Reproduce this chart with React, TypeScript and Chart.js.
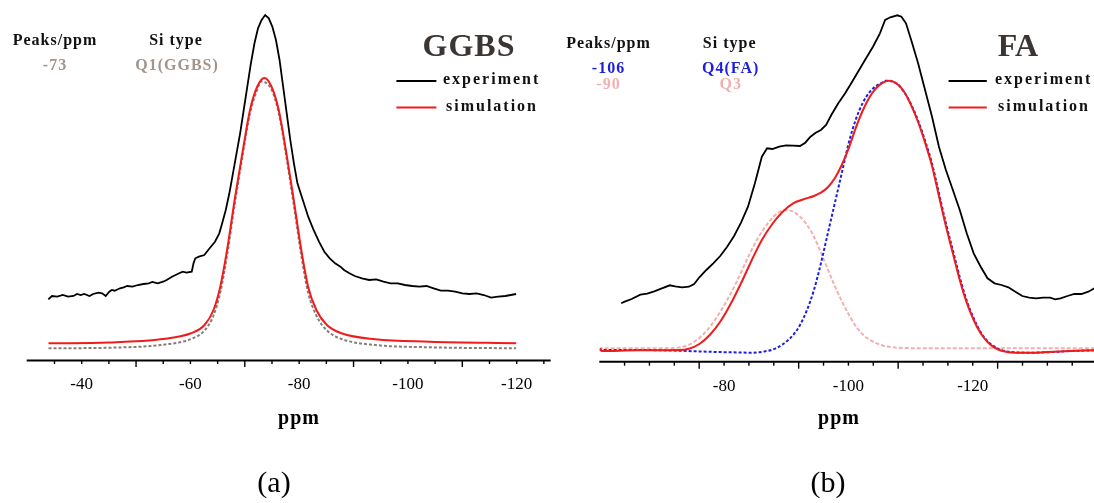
import { useEffect, useRef } from "react";
import { Chart, registerables } from "chart.js";

Chart.register(...registerables);

const SERIF = '"Liberation Serif", "Times New Roman", serif';

// ---------- (a) GGBS : 29Si NMR, chemical shift (ppm) vs intensity (a.u.) ----------
const ggbsExpPpm = [
  -33.87, -34.53, -35.52, -36.51, -37.5, -38.49, -39.15, -39.81, -40.47, -41.45, -42.11, -43.1, -43.76,
  -44.42, -45.08, -45.54, -46.07, -47.06, -47.72, -48.37, -49.36, -50.35, -51.34, -52.33, -52.99, -53.98,
  -54.97, -55.63, -56.61, -57.27, -57.93, -58.59, -59.25, -60.24, -60.57, -60.9, -61.56, -62.55, -63.53,
  -64.52, -65.31, -65.84, -66.5, -67.16, -67.82, -68.48, -69.14, -69.8, -70.46, -71.12, -71.78, -72.43,
  -73.09, -73.75, -74.41, -75.07, -75.73, -76.39, -77.05, -77.71, -78.37, -79.03, -79.68, -80.67, -81.66,
  -82.65, -83.64, -84.63, -85.62, -86.61, -87.59, -88.25, -89.24, -90.23, -91.55, -92.87, -94.19, -95.5,
  -96.82, -98.14, -99.46, -100.78, -102.1, -103.41, -104.73, -106.05, -107.37, -108.69, -110.01, -111.32,
  -112.64, -113.96, -115.28, -116.6, -117.92, -118.9, -119.89,
];
const ggbsExpInt = [
  61.2, 64.5, 63.8, 65.5, 63.8, 64.5, 66.5, 65.5, 66.5, 64.5, 66.5, 67.8, 67.2,
  64.5, 68.8, 70.5, 69.8, 72.2, 73.2, 74.5, 73.8, 75.5, 76.5, 77.2, 78.5, 77.2,
  78.8, 80.5, 83.8, 85.5, 87.2, 88.8, 87.8, 88.8, 97.2, 102.2, 103.8, 105.5, 112.2,
  118.8, 127.2, 137.2, 150.5, 167.2, 187.2, 207.2, 227.2, 250.5, 273.8, 297.2, 317.2, 332.2,
  340.5, 345.5, 342.2, 333.8, 320.5, 300.5, 273.8, 247.2, 220.5, 197.2, 177.2, 160.5, 143.8,
  130.5, 118.8, 108.8, 102.2, 97.2, 93.8, 90.5, 87.2, 84.5, 82.2, 80.5, 81.2, 78.8,
  77.2, 77.2, 75.5, 74.5, 73.8, 74.5, 72.2, 69.8, 69.8, 68.8, 67.2, 66.5,
  67.2, 65.5, 62.8, 63.8, 64.5, 65.5, 66.5,
];
const ggbsSimPpm = [
  -33.9, -45, -54.5, -60.1, -62.6, -64.24, -65.49, -66.74, -68.13, -69.65, -70.96, -72.3, -73.6,
  -74.9, -76.24, -77.55, -79.0, -80.39, -81.64, -83.16, -85.1, -87.8, -94.0, -104, -119.9,
];
const ggbsSimInt = [
  17.2, 18.0, 21.2, 27.2, 35.5, 50.5, 73.8, 110.5, 160.5, 210.5, 250.5, 274, 282.5,
  274, 250.5, 210.5, 160.5, 110.5, 73.8, 50.5, 35.5, 27.2, 21.2, 18.8, 17.2,
];
const ggbsQ1Ppm = [
  -33.9, -45, -54.5, -60.1, -62.6, -64.24, -65.49, -66.74, -68.13, -69.65, -70.96, -72.3, -73.0,
  -74.9, -76.24, -77.55, -79.0, -80.39, -81.64, -83.16, -85.1, -87.8, -94.0, -104, -119.9,
];
const ggbsQ1Int = [
  12.2, 12.8, 15.5, 21.5, 30, 45, 68, 105, 156, 207, 247.5, 271, 279,
  271, 247.5, 207, 156, 105, 68, 45, 30, 21.5, 15.5, 13.2, 12.2,
];
const ggbsMinorTicks = [-35, -40, -45, -55, -60, -65, -75, -80, -85, -95, -100, -105, -115, -120, -125];
const ggbsMajorTicks = [-50, -70, -90, -110];
const ggbsTickLabels = [-40, -60, -80, -100, -120];
const ggbsPeaks = ["-73"];
const ggbsSiTypes = ["Q1(GGBS)"];

// ---------- (b) FA ----------
const faExpPpm = [
  -63.46, -64.02, -65.14, -66.54, -67.65, -68.77, -69.89, -71.28, -72.12, -73.24, -74.35, -75.19, -76.03,
  -77.15, -78.26, -79.38, -80.5, -81.61, -82.73, -83.85, -84.96, -86.08, -86.92, -87.76, -88.87, -89.99,
  -91.11, -92.22, -93.06, -93.9, -94.74, -95.58, -96.41, -97.25, -98.37, -99.48, -100.6, -101.72, -102.84,
  -103.95, -105.07, -105.91, -106.74, -107.86, -108.53, -109.26, -110.1, -111.21, -112.33, -113.45, -114.56,
  -115.68, -116.8, -117.91, -119.03, -120.15, -121.27, -122.38, -123.5, -124.62, -125.73, -126.85, -127.97,
  -129.08, -130.2, -131.32, -132.43, -133.27, -134.11, -135.23, -136.34, -137.46, -138.58, -139.58,
];
const faExpInt = [
  58.4, 60.0, 62.7, 67.0, 68.0, 70.4, 73.0, 76.4, 75.4, 74.4, 75.0, 77.7, 84.4,
  91.7, 98.4, 105.7, 115.0, 125.7, 139.0, 155.0, 178.4, 205.0, 213.4, 212.7, 215.0, 216.4,
  216.0, 215.7, 219.0, 225.0, 229.0, 231.7, 236.7, 246.7, 258.4, 268.4, 280.0, 291.7, 303.4,
  315.0, 328.4, 341.7, 344.4, 346.4, 345.0, 338.4, 321.7, 298.4, 271.7, 245.0, 215.0,
  191.7, 171.7, 151.7, 128.4, 108.4, 95.0, 83.4, 78.4, 76.7, 74.4, 70.0, 65.7,
  64.0, 63.4, 64.0, 64.0, 62.4, 63.4, 65.7, 67.7, 67.7, 70.0, 73.4,
];
const faSimPpm = [
  -60.1, -60.3, -65.98, -72.68, -74.35, -76.03, -77.7, -79.38, -81.06, -82.73, -84.41, -86.08, -87.76,
  -89.43, -91.11, -92.78, -94.46, -95.58, -96.69, -97.81, -98.93, -100.04, -101.16, -102.28, -103.39,
  -104.51, -105.63, -106.63, -107.86, -108.98, -110.1, -111.21, -112.33, -113.45, -114.56, -115.68, -116.8,
  -117.91, -119.03, -120.15, -121.27, -122.38, -123.5, -124.62, -126.85, -129.08, -131.32, -134.67, -139.58,
];
const faSimInt = [
  13.5, 10.7, 11.4, 11.7, 13.0, 17.7, 26.7, 40.0, 57.7, 78.4, 101.0, 121.7, 137.7,
  150.0, 158.4, 162.4, 165.7, 169.0, 174.4, 183.4, 196.7, 213.4, 233.4, 250.7, 264.4,
  274.0, 279.4, 281.0, 277.7, 269.7, 256.4, 239.7, 219.0, 195.7, 165.7, 135.7, 108.4,
  81.7, 59.0, 41.7, 28.4, 19.7, 14.0, 11.0, 9.0, 9.0, 9.4, 10.4, 11.4,
];
const faQ4Ppm = [
  -59.83, -65.98, -72.68, -77.15, -81.06, -84.41, -86.64, -88.32, -89.99, -91.11, -92.22, -93.34, -94.46,
  -95.58, -96.69, -97.81, -98.93, -100.04, -101.16, -102.28, -103.39, -104.51, -105.63, -106.0, -107.86,
  -108.98, -110.1, -111.21, -112.33, -113.45, -114.56, -115.68, -116.8, -117.91, -119.03, -120.15, -121.27,
  -122.38, -123.5, -124.62, -126.29, -129.08, -132.99, -135.79, -139.58,
];
const faQ4Int = [
  11.7, 11.7, 11.0, 10.0, 9.4, 9.0, 10.4, 13.4, 20.0, 26.7, 36.7, 51.7, 71.7,
  98.4, 128.4, 158.4, 188.4, 218.4, 241.7, 258.4, 269.4, 276.0, 279.7, 281.0, 277.7,
  269.5, 257.0, 241.0, 221.0, 198.0, 168.5, 138.5, 111.5, 84.5, 61.0, 43.5, 29.5,
  20.5, 15.0, 11.5, 9.7, 9.0, 9.7, 10.7, 11.4,
];
const faQ3Ppm = [
  -59.83, -70.45, -73.24, -75.47, -77.15, -78.82, -80.5, -82.17, -83.85, -85.52, -87.2, -88.59, -90.0,
  -91.11, -92.22, -93.34, -94.46, -95.58, -96.69, -97.81, -98.93, -100.04, -101.16, -102.28, -103.95,
  -105.63, -107.86, -113.45, -139.58,
];
const faQ3Int = [
  13.4, 13.4, 14.7, 21.0, 30.7, 44.4, 61.7, 81.7, 104.4, 124.4, 139.7, 148.4, 151.7,
  150.0, 145.0, 136.7, 125.0, 109.0, 92.4, 75.7, 60.7, 47.4, 35.7, 27.4, 20.0,
  16.0, 14.0, 13.4, 13.4,
];
const faMinorTicks = [-64, -68, -72, -80, -84, -88, -96, -100, -104, -112, -116, -120, -128, -132, -136];
const faMajorTicks = [-76, -92, -108, -124];
const faTickLabels = [-80, -100, -120];
const faPeaks = ["-106", "-90"];
const faSiTypes = ["Q4(FA)", "Q3"];

const legendNames = ["experiment", "simulation"];

const BLACK = "#000000";
const RED = "#f01c1c";
const Q1_LINE = "#867d78";
const Q1_TEXT = "#a3948b";
const Q4_BLUE = "#1d1fdc";
const Q3_PINK = "#f3b0b0";
const TITLE_INK = "#3b3633";

type TextItem = { text: string; x: number; y: number; color: string; size: number; bold?: boolean; spacing?: number; align?: CanvasTextAlign };

type PanelSpec = {
  id: string;
  originX: number;
  width: number;
  xMin: number;
  xMax: number;
  padding: { left: number; right: number; top: number; bottom: number };
  minorTicks: number[];
  majorTicks: number[];
  tickLabels: number[];
  minorLen: number;
  majorLen: number;
  tickLabelY: number;
  axisPadLeft: number;
  axisPadRight: number;
  texts: TextItem[];
  legendX: [number, number];
  legendY: [number, number];
  datasets: any[];
};

const pts = (xs: number[], ys: number[]) => xs.map((x, i) => ({ x, y: ys[i] }));

const lineDs = (label: string, xs: number[], ys: number[], color: string, order: number, extra: any = {}) => ({
  label,
  data: pts(xs, ys),
  borderColor: color,
  backgroundColor: color,
  borderWidth: 2,
  pointRadius: 0,
  fill: false,
  order,
  ...extra,
});

const smooth = { cubicInterpolationMode: "monotone" };

function headerTexts(
  peakX: number,
  typeX: number,
  headY: number,
  rowYs: number[],
  peaks: string[],
  types: string[],
  colors: string[],
): TextItem[] {
  const out: TextItem[] = [
    { text: "Peaks/ppm", x: peakX, y: headY, color: "#111", size: 16, bold: true, spacing: 1 },
    { text: "Si type", x: typeX, y: headY, color: "#111", size: 16, bold: true, spacing: 1 },
  ];
  peaks.forEach((p, i) => {
    out.push({ text: p, x: peakX, y: rowYs[i], color: colors[i], size: 16, bold: true, spacing: 1 });
    out.push({ text: types[i], x: typeX + 1, y: rowYs[i], color: colors[i], size: 16, bold: true, spacing: 1 });
  });
  return out;
}

const panels: PanelSpec[] = [
  {
    id: "ggbs",
    originX: 0,
    width: 560,
    xMin: -126,
    xMax: -30,
    padding: { left: 27.3, right: 10.7, top: 10.5, bottom: 142.5 },
    minorTicks: ggbsMinorTicks,
    majorTicks: ggbsMajorTicks,
    tickLabels: ggbsTickLabels,
    minorLen: 3.5,
    majorLen: 6.5,
    tickLabelY: 385,
    axisPadLeft: 0.6,
    axisPadRight: 1.4,
    texts: [
      ...headerTexts(55, 176, 40.5, [65.5], ggbsPeaks, ggbsSiTypes, [Q1_TEXT]),
      { text: "GGBS", x: 469, y: 47.5, color: TITLE_INK, size: 32, bold: true, spacing: 1 },
      { text: legendNames[0], x: 443, y: 80, color: "#111", size: 16, bold: true, spacing: 2, align: "left" },
      { text: legendNames[1], x: 446, y: 106.5, color: "#111", size: 16, bold: true, spacing: 2, align: "left" },
    ],
    legendX: [396.4, 436.4],
    legendY: [81, 107.5],
    datasets: [
      lineDs("experiment", ggbsExpPpm, ggbsExpInt, BLACK, 0, { tension: 0, borderWidth: 1.8 }),
      lineDs("simulation", ggbsSimPpm, ggbsSimInt, RED, 1, smooth),
      lineDs("Q1(GGBS)", ggbsQ1Ppm, ggbsQ1Int, Q1_LINE, 2, { ...smooth, borderDash: [3, 2] }),
    ],
  },
  {
    id: "fa",
    originX: 560,
    width: 534,
    xMin: -139.5,
    xMax: -60,
    padding: { left: 39.7, right: 0, top: 11.7, bottom: 141.3 },
    minorTicks: faMinorTicks,
    majorTicks: faMajorTicks,
    tickLabels: faTickLabels,
    minorLen: 4,
    majorLen: 7,
    tickLabelY: 386.7,
    axisPadLeft: 0.4,
    axisPadRight: 0,
    texts: [
      ...headerTexts(608.5, 729.7, 43.5, [68.5, 85], faPeaks, faSiTypes, [Q4_BLUE, Q3_PINK]),
      { text: "FA", x: 1018, y: 47.5, color: TITLE_INK, size: 32, bold: true, spacing: 0 },
      { text: legendNames[0], x: 995, y: 80, color: "#111", size: 16, bold: true, spacing: 2, align: "left" },
      { text: legendNames[1], x: 998, y: 106.5, color: "#111", size: 16, bold: true, spacing: 2, align: "left" },
    ],
    legendX: [948.6, 986.8],
    legendY: [81, 107.5],
    datasets: [
      lineDs("experiment", faExpPpm, faExpInt, BLACK, 0, { tension: 0, borderWidth: 1.8 }),
      lineDs("simulation", faSimPpm, faSimInt, RED, 1, smooth),
      lineDs("Q4(FA)", faQ4Ppm, faQ4Int, Q4_BLUE, 2, { ...smooth, borderDash: [3, 2] }),
      lineDs("Q3", faQ3Ppm, faQ3Int, Q3_PINK, 3, { ...smooth, borderDash: [4, 2] }),
    ],
  },
];

const panelCaptions = ["(a)", "(b)"];
const captionX = [274, 828];
const axisTitleX = [299, 839];

function makeDecor(p: PanelSpec, index: number) {
  return {
    id: "decor-" + p.id,
    afterDraw(chart: Chart) {
      const ctx = chart.ctx;
      const area = chart.chartArea;
      const xs = chart.scales.x;
      const ox = p.originX;
      const y0 = area.bottom;
      ctx.save();

      // bottom axis with ticks pointing down
      ctx.strokeStyle = "#000";
      ctx.lineWidth = 2;
      ctx.beginPath();
      ctx.moveTo(area.left - p.axisPadLeft, y0);
      ctx.lineTo(area.right + p.axisPadRight, y0);
      ctx.stroke();
      ctx.lineWidth = 1.4;
      const tick = (v: number, len: number) => {
        const px = xs.getPixelForValue(v);
        ctx.beginPath();
        ctx.moveTo(px, y0);
        ctx.lineTo(px, y0 + len);
        ctx.stroke();
      };
      p.minorTicks.forEach((v) => tick(v, p.minorLen));
      p.majorTicks.forEach((v) => tick(v, p.majorLen));

      ctx.fillStyle = "#000";
      ctx.textAlign = "center";
      ctx.textBaseline = "middle";
      (ctx as any).letterSpacing = "0px";
      ctx.font = `17px ${SERIF}`;
      p.tickLabels.forEach((v) => ctx.fillText(String(v), xs.getPixelForValue(v), p.tickLabelY));

      // axis title and panel caption
      ctx.textBaseline = "alphabetic";
      (ctx as any).letterSpacing = "1px";
      ctx.font = `bold 20px ${SERIF}`;
      ctx.fillText("ppm", axisTitleX[index] - ox, 424);
      (ctx as any).letterSpacing = "0px";
      ctx.font = `30px ${SERIF}`;
      ctx.fillText(panelCaptions[index], captionX[index] - ox, 492);

      // legend samples
      const legendColors = [BLACK, RED];
      legendColors.forEach((c, i) => {
        ctx.strokeStyle = c;
        ctx.lineWidth = 2;
        ctx.beginPath();
        ctx.moveTo(p.legendX[0] - ox, p.legendY[i]);
        ctx.lineTo(p.legendX[1] - ox, p.legendY[i]);
        ctx.stroke();
      });

      // annotation texts
      ctx.textBaseline = "middle";
      p.texts.forEach((t) => {
        ctx.font = `${t.bold ? "bold " : ""}${t.size}px ${SERIF}`;
        ctx.fillStyle = t.color;
        ctx.textAlign = t.align ?? "center";
        (ctx as any).letterSpacing = `${t.spacing ?? 0}px`;
        ctx.fillText(t.text, t.x - ox, t.y);
      });
      ctx.restore();
    },
  };
}

function Panel({ spec, index }: { spec: PanelSpec; index: number }) {
  const ref = useRef<HTMLCanvasElement | null>(null);
  useEffect(() => {
    if (!ref.current) return;
    const chart = new Chart(ref.current, {
      type: "line",
      data: { datasets: spec.datasets },
      options: {
        animation: false,
        responsive: false,
        maintainAspectRatio: false,
        devicePixelRatio: 1,
        layout: { padding: spec.padding },
        plugins: { legend: { display: false }, tooltip: { enabled: false }, title: { display: false } },
        events: [],
        scales: {
          x: { type: "linear", reverse: true, min: spec.xMin, max: spec.xMax, display: false },
          y: { type: "linear", min: 0, max: 350, display: false },
        },
      },
      plugins: [makeDecor(spec, index)],
    } as any);
    return () => chart.destroy();
  }, [spec, index]);
  return (
    <canvas
      ref={ref}
      width={spec.width}
      height={503}
      style={{ position: "absolute", left: spec.originX, top: 0, width: spec.width, height: 503 }}
    />
  );
}

export default function App() {
  return (
    <div
      style={{
        position: "fixed",
        left: 0,
        top: 0,
        width: 1094,
        height: 503,
        background: "#ffffff",
        overflow: "hidden",
      }}
    >
      {panels.map((p, i) => (
        <Panel key={p.id} spec={p} index={i} />
      ))}
    </div>
  );
}
